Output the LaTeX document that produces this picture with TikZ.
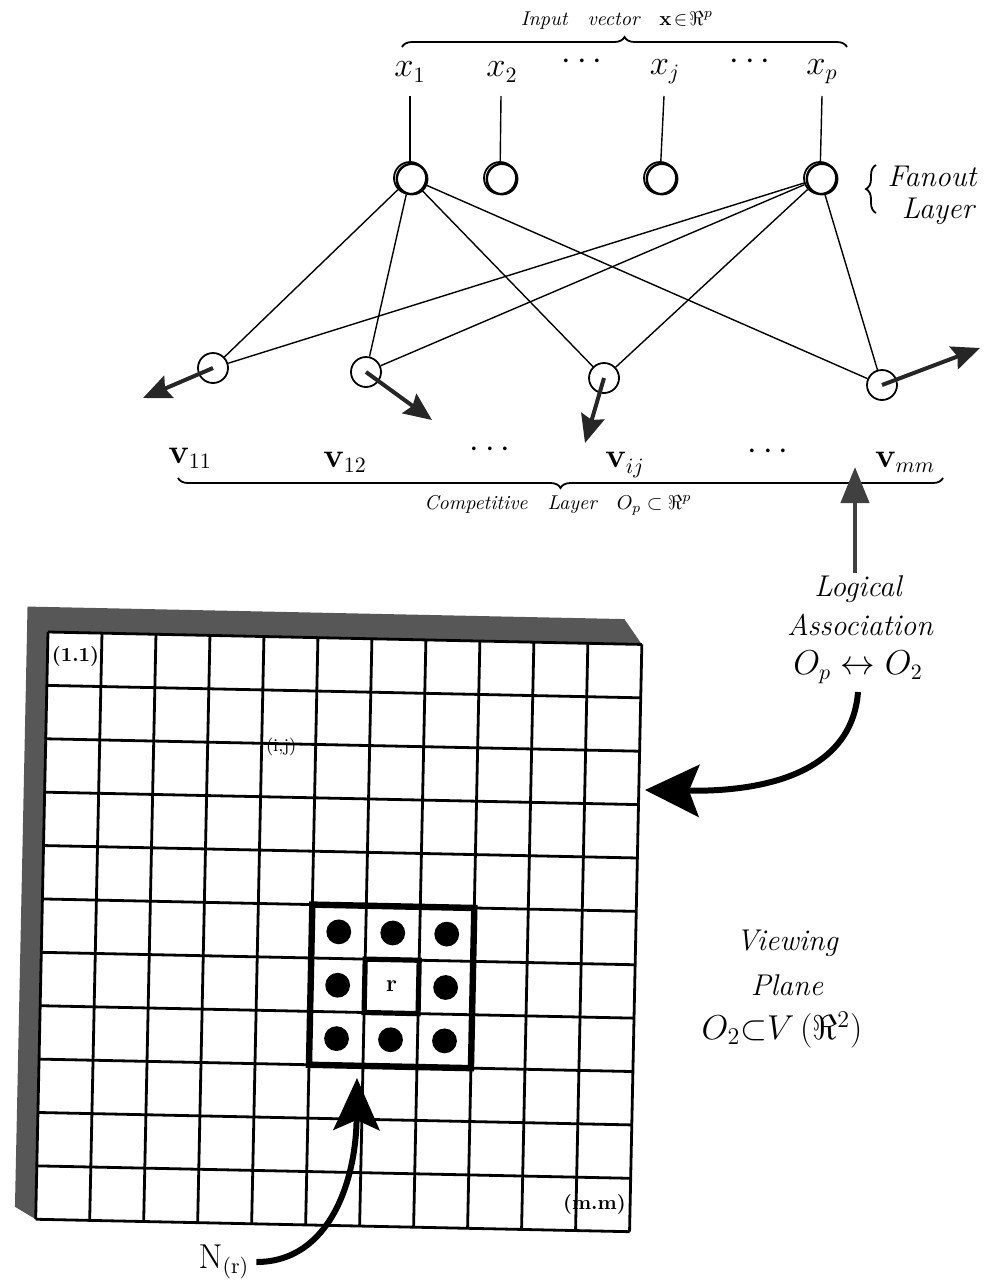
\documentclass[tikz,border=0pt]{standalone}
\usetikzlibrary{arrows.meta,decorations.pathreplacing}
\begin{document}
\begin{tikzpicture}[x=0.5pt,y=-0.5pt,
  unit/.style={circle,draw,line width=0.9pt,minimum size=15pt,inner sep=0pt},
  wire/.style={line width=0.7pt},
  lab/.style={font=\fontsize{16}{18}\selectfont},
  big/.style={font=\fontsize{15}{19}\selectfont\itshape,align=center,inner sep=1pt},
  small/.style={font=\fontsize{10}{12}\selectfont\itshape},
  vec/.style={-{Stealth[length=14pt,width=12pt,inset=2pt]},line width=2pt,draw=black!85},
  brc/.style={decorate,decoration={brace,amplitude=5pt},line width=0.9pt},
  gridline/.style={line width=1.4pt},
  celltext/.style={font=\fontsize{10}{11}\selectfont\bfseries,inner sep=1pt},
]
\useasboundingbox (0,0) rectangle (994,1286);

% ---------- input vector ----------
\node[small] (inlab) at (617,20) {Input\quad vector\quad $\mathbf{x}\!\in\!\Re^{p}$};
\draw[brc] (402,47) -- (847,47);
\node[lab] (x1) at (410,72) {$x_{1}$};
\node[lab] (x2) at (502,72) {$x_{2}$};
\node[lab] (xd1) at (582,62) {$\cdots$};
\node[lab] (xj) at (665,72) {$x_{j}$};
\node[lab] (xd2) at (750,62) {$\cdots$};
\node[lab] (xp) at (822,72) {$x_{p}$};

% ---------- fanout layer ----------
\node[unit,minimum size=16pt] (n1) at (410,178) {};
\node[unit,minimum size=16pt] (n2) at (500,178) {};
\node[unit,minimum size=16pt] (nj) at (660,178) {};
\node[unit,minimum size=16pt] (np) at (820,178) {};
\foreach \n/\x in {n1/410,n2/500,nj/660,np/820}
  \draw[line width=1.2pt] (\x+2,179) circle[radius=7.6pt];

\coordinate (t1) at (410,96);
\coordinate (t2) at (501,96);
\coordinate (tj) at (664,96);
\coordinate (tp) at (822,96);
\draw[wire] (t1) -- (n1);
\draw[wire] (t2) -- (n2);
\draw[wire] (tj) -- (nj);
\draw[wire] (tp) -- (np);

\draw[brc] (876,213) -- (876,165);
\node[big] (fan) at (932,195) {Fanout\\[-3pt]\hspace*{6pt}Layer};

% ---------- competitive layer ----------
\node[unit] (o1) at (213,368) {};
\node[unit] (o2) at (366,372) {};
\node[unit] (oj) at (604,378) {};
\node[unit] (om) at (882,385) {};

\foreach \s in {n1,np}
  \foreach \t in {o1,o2,oj,om}
    \draw[wire] (\s) -- (\t);

\coordinate (a1) at (143,398);
\coordinate (a2) at (432,420);
\coordinate (aj) at (585,443);
\coordinate (am) at (980,348);
\draw[vec] (o1.center) -- (a1);
\draw[vec] (o2.center) -- (a2);
\draw[vec] (oj.center) -- (aj);
\draw[vec] (om.center) -- (am);

\node[lab] (v11) at (190,458) {$\mathbf{v}_{11}$};
\node[lab] (v12) at (345,462) {$\mathbf{v}_{12}$};
\node[lab] (vd1) at (490,450) {$\cdots$};
\node[lab] (vij) at (625,465) {$\mathbf{v}_{ij}$};
\node[lab] (vd2) at (768,452) {$\cdots$};
\node[lab] (vmm) at (905,462) {$\mathbf{v}_{mm}$};

\draw[brc] (943,478) -- (178,478);
\node[small] (complab) at (558,505) {Competitive\quad Layer\quad $O_{p}\subset\Re^{p}$};

% ---------- logical association ----------
\coordinate (upfoot) at (855,573);
\coordinate (uptip) at (855,467);
\draw[line width=2.2pt,draw=black!75,-{Triangle[length=18pt,width=14pt]}] (upfoot) -- (uptip);

\node[big] (logic) at (858,589) {Logical};
\node[big] (assoc) at (860,625) {Association};
\node[big,font=\fontsize{16}{18}\selectfont] (oo) at (858,667) {$O_{p}\leftrightarrow O_{2}$};

\coordinate (lafoot) at (858,692);
\coordinate (gridin) at (645,790);
\draw[line width=3pt,-{Stealth[length=27pt,width=26pt,inset=5pt]}]
  (lafoot) .. controls (852,770) and (770,792) .. (gridin);

% ---------- viewing plane ----------
\node[big] (view) at (787,943) {Viewing};
\node[big] (plane) at (787,985) {Plane};
\node[big,font=\fontsize{17}{19}\selectfont] (o2v) at (782,1030) {$O_{2}{\subset}V\,(\Re^{2})$};

% ---------- grid of the viewing plane ----------
\begin{scope}[shift={(48,632)},rotate=-1.2]
  \def\cw{54}\def\ch{53.4}
  % shaded frame along the left and top edges
  \fill[black!66] (0,{11*\ch}) -- (-21,{11*\ch-12}) -- (-21,-25) -- (576,-25)
        -- ({11*\cw},0) -- (0,0) -- cycle;
  \foreach \i in {0,...,11}{
    \draw[gridline] ({\i*\cw},0) -- ({\i*\cw},{11*\ch});
    \draw[gridline] (0,{\i*\ch}) -- ({11*\cw},{\i*\ch});
  }
  % neighbourhood of the winning unit
  \foreach \c/\r in {5/5,6/5,7/5,5/6,7/6,5/7,6/7,7/7}
    \fill ({(\c+0.5)*\cw},{(\r+0.5)*\ch}) circle[radius=6.2pt];
  \draw[line width=3.2pt] ({5*\cw},{5*\ch}) rectangle ({8*\cw},{8*\ch});
  \draw[line width=2.6pt] ({6*\cw},{6*\ch}) rectangle ({7*\cw},{7*\ch});
  \node[celltext,font=\fontsize{12}{13}\selectfont\bfseries] (r) at ({6.5*\cw},{6.5*\ch}) {r};
  \node[celltext,anchor=west] (c11) at (2,{0.45*\ch}) {(1.1)};
  \node[celltext,anchor=west,font=\fontsize{9}{10}\selectfont] (cij) at ({4*\cw+2},{2*\ch+4}) {(i,j)};
  \node[celltext,anchor=east] (cmm) at ({11*\cw-2},{10.5*\ch}) {(m.m)};
\end{scope}

% ---------- neighbourhood pointer ----------
\node[font=\fontsize{16}{18}\selectfont] (Nr) at (224,1262) {$\mathrm{N}_{(\mathrm{r})}$};
\coordinate (ntip) at (357,1078);
\draw[line width=3pt,-{Stealth[length=26pt,width=23pt,inset=5pt]}]
  (Nr.east) .. controls (330,1262) and (356,1180) .. (ntip);
\end{tikzpicture}
\end{document}
